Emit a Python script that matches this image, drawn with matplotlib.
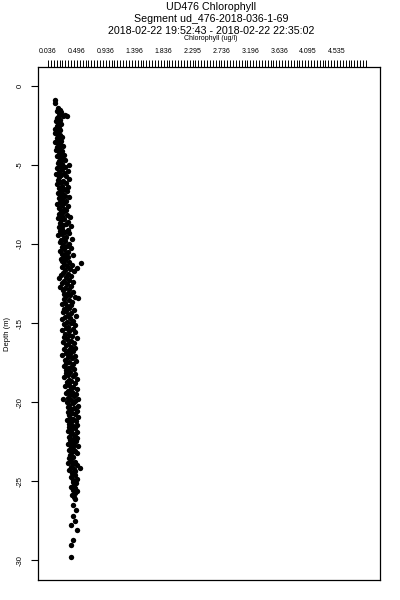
import numpy as np
import matplotlib
matplotlib.use('Agg')
import matplotlib.pyplot as plt

# (depth m, chlorophyll ug/l), top to bottom
band_a = [(-0.89, .15), (-1.06, .15), (-1.42, .19), (-1.50, .22), (-1.58, .17), (-1.64, .24),
          (-1.71, .20), (-1.78, .22), (-1.84, .30), (-1.90, .27), (-1.93, .33), (-1.98, .19)]
band_b = [(-2.05, .18), (-2.14, .22), (-2.22, .16), (-2.30, .20), (-2.38, .24), (-2.47, .19),
          (-2.55, .17), (-2.63, .21), (-2.71, .15), (-2.80, .23), (-2.88, .19), (-2.96, .14),
          (-3.04, .18), (-3.12, .22), (-3.20, .26), (-3.28, .17), (-3.36, .20), (-3.45, .24),
          (-3.53, .15), (-3.61, .19), (-3.69, .23), (-3.78, .27), (-3.86, .18), (-3.94, .21),
          (-4.02, .16), (-4.10, .25), (-4.19, .20), (-4.27, .23), (-4.35, .29), (-4.43, .18),
          (-4.52, .22), (-4.60, .26), (-4.68, .30), (-4.76, .21), (-4.85, .19), (-4.93, .25),
          (-5.02, .36)]
band_c = [(-5.06, .22), (-5.13, .30), (-5.20, .18), (-5.28, .26), (-5.35, .34), (-5.42, .20),
          (-5.50, .28), (-5.57, .16), (-5.64, .24), (-5.72, .32), (-5.79, .21), (-5.86, .37),
          (-5.94, .19), (-6.01, .27), (-6.08, .23), (-6.16, .31), (-6.23, .17), (-6.30, .25),
          (-6.38, .35), (-6.45, .21), (-6.52, .29), (-6.60, .24), (-6.67, .33), (-6.74, .19),
          (-6.82, .27), (-6.89, .22), (-6.96, .30), (-7.04, .36), (-7.11, .20), (-7.18, .26),
          (-7.26, .32), (-7.33, .23), (-7.40, .29), (-7.48, .18), (-7.55, .25), (-7.62, .34),
          (-7.70, .21), (-7.77, .28), (-7.84, .31), (-7.92, .24)]
band_d = [(-7.99, .27), (-8.07, .21), (-8.14, .33), (-8.21, .25), (-8.29, .38), (-8.36, .19),
          (-8.43, .29), (-8.51, .24), (-8.58, .35), (-8.65, .22), (-8.73, .31), (-8.80, .27),
          (-8.87, .40), (-8.95, .20), (-9.02, .26), (-9.09, .34), (-9.17, .23), (-9.24, .30),
          (-9.31, .37), (-9.39, .25), (-9.46, .19), (-9.53, .32), (-9.61, .28), (-9.68, .41),
          (-9.75, .24), (-9.83, .30), (-9.90, .22), (-9.97, .36), (-10.05, .27), (-10.12, .33),
          (-10.19, .25), (-10.27, .39), (-10.34, .29), (-10.41, .23), (-10.49, .35), (-10.56, .31),
          (-10.63, .26), (-10.71, .42), (-10.78, .28), (-10.85, .34), (-10.93, .24)]
band_e = [(-11.00, .30), (-11.08, .25), (-11.15, .37), (-11.20, .55), (-11.25, .28), (-11.33, .41),
          (-11.40, .33), (-11.48, .26), (-11.52, .49), (-11.58, .38), (-11.66, .30), (-11.73, .44),
          (-11.81, .27), (-11.88, .35), (-11.96, .24), (-12.03, .40), (-12.11, .31), (-12.18, .21),
          (-12.26, .36), (-12.33, .29), (-12.41, .43), (-12.48, .26), (-12.56, .33), (-12.63, .39),
          (-12.71, .23), (-12.78, .30), (-12.86, .37), (-12.93, .27), (-13.01, .42), (-13.08, .34),
          (-13.16, .29), (-13.23, .38), (-13.31, .31), (-13.38, .45), (-13.42, .50), (-13.49, .28),
          (-13.57, .36), (-13.64, .41), (-13.72, .30), (-13.79, .26), (-13.87, .39), (-13.94, .33)]
band_f = [(-14.02, .36), (-14.09, .29), (-14.17, .44), (-14.24, .32), (-14.32, .27), (-14.39, .40),
          (-14.47, .35), (-14.54, .47), (-14.62, .30), (-14.69, .38), (-14.77, .26), (-14.84, .43),
          (-14.92, .33), (-14.99, .39), (-15.07, .28), (-15.14, .46), (-15.22, .34), (-15.29, .31),
          (-15.37, .42), (-15.44, .25), (-15.52, .37), (-15.59, .45), (-15.67, .30), (-15.74, .36),
          (-15.82, .41), (-15.89, .28), (-15.97, .48), (-16.04, .33), (-16.12, .39), (-16.19, .27),
          (-16.27, .44), (-16.34, .35), (-16.42, .31), (-16.49, .40), (-16.57, .46), (-16.64, .29),
          (-16.72, .37), (-16.79, .43), (-16.87, .32), (-16.94, .38), (-17.02, .26), (-17.09, .45),
          (-17.17, .34), (-17.24, .41), (-17.32, .30), (-17.39, .47), (-17.47, .36), (-17.54, .32),
          (-17.62, .43), (-17.69, .28), (-17.77, .39), (-17.84, .35), (-17.92, .44), (-17.99, .31)]
band_g = [(-18.07, .38), (-18.14, .31), (-18.22, .45), (-18.29, .35), (-18.37, .42), (-18.44, .29),
          (-18.52, .48), (-18.59, .36), (-18.67, .40), (-18.74, .33), (-18.82, .46), (-18.89, .37),
          (-18.97, .30), (-19.04, .43), (-19.12, .39), (-19.19, .49), (-19.27, .34), (-19.34, .41),
          (-19.42, .32), (-19.49, .47), (-19.57, .38), (-19.64, .44), (-19.72, .35), (-19.79, .50),
          (-19.80, .27), (-19.87, .40), (-19.94, .46), (-20.02, .33), (-20.09, .42), (-20.17, .37),
          (-20.24, .51), (-20.32, .35), (-20.39, .44), (-20.47, .39), (-20.54, .48), (-20.62, .34),
          (-20.69, .41), (-20.77, .45), (-20.84, .36), (-20.92, .50), (-20.99, .38), (-21.07, .43),
          (-21.14, .33), (-21.22, .47), (-21.29, .40), (-21.37, .36), (-21.44, .49), (-21.52, .42),
          (-21.59, .37), (-21.67, .45), (-21.74, .39), (-21.82, .34), (-21.89, .48), (-21.97, .41)]
band_h = [(-22.04, .40), (-22.12, .45), (-22.19, .36), (-22.27, .49), (-22.34, .42), (-22.42, .38),
          (-22.49, .47), (-22.57, .41), (-22.64, .35), (-22.72, .44), (-22.79, .50), (-22.87, .39),
          (-22.94, .43), (-23.02, .37), (-23.09, .46), (-23.17, .41), (-23.24, .48), (-23.35, .38),
          (-23.45, .42), (-23.55, .36), (-23.70, .40), (-23.78, .46), (-23.85, .35), (-23.93, .43),
          (-24.00, .49), (-24.08, .39), (-24.15, .53), (-24.23, .44), (-24.30, .37), (-24.38, .46),
          (-24.50, .41), (-24.62, .45), (-24.75, .40), (-24.85, .48), (-24.95, .43)]
band_i = [(-25.05, .42), (-25.15, .47), (-25.25, .44), (-25.35, .40), (-25.45, .46), (-25.55, .43),
          (-25.65, .48), (-25.75, .45), (-25.85, .41), (-26.00, .44), (-26.15, .46), (-26.50, .42),
          (-26.80, .47), (-27.20, .43), (-27.50, .46), (-27.80, .39), (-28.10, .48), (-28.70, .42),
          (-29.05, .39), (-29.80, .40)]

profile = np.array(band_a + band_b + band_c + band_d + band_e + band_f + band_g + band_h + band_i)
depth = profile[:, 0]
chl = profile[:, 1]

x_labels = ['0.036', '0.496', '0.936', '1.396', '1.836', '2.295', '2.736', '3.196', '3.636', '4.095', '4.535']
y_ticks = [0, -5, -10, -15, -20, -25, -30]

plt.rcParams['font.family'] = ['Liberation Sans', 'DejaVu Sans']

fig = plt.figure(figsize=(4, 6), dpi=100)
ax = fig.add_axes([0.095, 0.0333, 0.855, 0.855])

ax.scatter(chl, depth, s=15, c='black', marker='o', linewidths=0)

ax.set_xlim(-0.12, 5.205)
ax.set_ylim(-31.26, 1.2)

# ticks only on top and left, like the original
ax.xaxis.set_ticks_position('top')
major = 0.036 + 0.45 * np.arange(len(x_labels))
ax.set_xticks(major)
ax.set_xticklabels(x_labels, fontsize=5)
ax.set_xticks(0.036 + 0.045 * np.arange(111), minor=True)
ax.tick_params(axis='x', which='both', direction='out', length=5, width=0.7, pad=4)

ax.set_yticks(y_ticks)
ax.set_yticklabels([str(v) for v in y_ticks], fontsize=5.5, rotation=90, va='center')
ax.tick_params(axis='y', direction='out', length=5, width=0.8, pad=5)
ax.set_ylabel('Depth (m)', fontsize=5.5)
ax.yaxis.set_label_coords(-0.078, 0.48)

for s in ax.spines.values():
    s.set_linewidth(0.9)

fig.text(0.528, 1 - 7 / 600, 'UD476 Chlorophyll', ha='center', va='center', fontsize=7.7)
fig.text(0.528, 1 - 19 / 600, 'Segment ud_476-2018-036-1-69', ha='center', va='center', fontsize=7.7)
fig.text(0.528, 1 - 31 / 600, '2018-02-22 19:52:43 - 2018-02-22 22:35:02', ha='center', va='center', fontsize=7.7)
fig.text(0.528, 1 - 39 / 600, 'Chlorophyll (ug/l)', ha='center', va='center', fontsize=5)

fig.savefig('out.png', dpi=100)
